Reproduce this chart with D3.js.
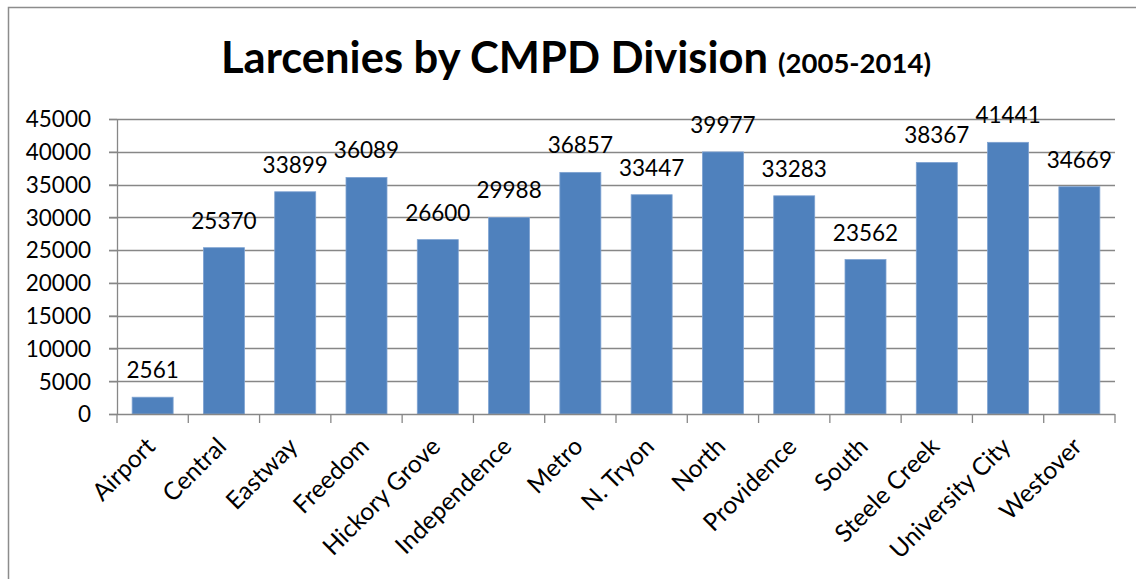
<!DOCTYPE html>
<html><head><meta charset="utf-8">
<script src="https://cdn.jsdelivr.net/npm/d3@7"></script>
<style>html,body{margin:0;padding:0;background:#fff;} svg{display:block;}</style>
</head><body>
<script>
const categories = ["Airport","Central","Eastway","Freedom","Hickory Grove","Independence","Metro","N. Tryon","North","Providence","South","Steele Creek","University City","Westover"];
const values = [2561,25370,33899,36089,26600,29988,36857,33447,39977,33283,23562,38367,41441,34669];
const yTicks = [0,5000,10000,15000,20000,25000,30000,35000,40000,45000];
const titleMain = "Larcenies by CMPD Division";
const titleSub = "(2005-2014)";

(function () {
const W = 1136, H = 579;
const font = "Lato, 'Open Sans', sans-serif";
const svg = d3.select("body").append("svg").attr("width", W).attr("height", H);
svg.append("rect").attr("width", W).attr("height", H).attr("fill", "#fff");

// chart frame (partially cropped)
svg.append("path").attr("d", `M8.5,${H+2} L8.5,7.5 L${W+2},7.5`).attr("fill","none").attr("stroke","#8c8c8c").attr("stroke-width",1.5);

const pLeft = 117, pRight = 1115, pTop = 119, pBottom = 414;
const x = d3.scaleBand().domain(categories).range([pLeft, pRight]).paddingInner(0.425).paddingOuter(0.2125);
const y = d3.scaleLinear().domain([0, 45000]).range([pBottom, pTop]);
const gridColor = "#878787";

// gridlines
svg.append("g").selectAll("line").data(yTicks.filter(d => d > 0)).join("line")
  .attr("x1", pLeft - 8).attr("x2", pRight)
  .attr("y1", d => Math.round(y(d)) + 0.5).attr("y2", d => Math.round(y(d)) + 0.5)
  .attr("stroke", gridColor).attr("stroke-width", 1.3);

// y axis
const yAxis = svg.append("g").attr("transform", `translate(${pLeft},0)`)
  .call(d3.axisLeft(y).tickValues(yTicks).tickSize(8).tickPadding(18).tickFormat(d3.format("d")));
yAxis.select(".domain").attr("stroke", gridColor).attr("stroke-width", 1.3).attr("d", `M0.5,${pBottom+0.5}V${pTop}`);
yAxis.selectAll(".tick line").attr("stroke", gridColor).attr("stroke-width", 1.3);
yAxis.selectAll(".tick text").attr("font-family", font).attr("font-size", 22.5).attr("fill", "#000").attr("dy", "0.35em");

// bars
svg.append("g").selectAll("rect").data(values).join("rect")
  .attr("x", (d, i) => x(categories[i]))
  .attr("width", x.bandwidth())
  .attr("y", d => y(d))
  .attr("height", d => y(0) - y(d))
  .attr("fill", "#4F81BD")
  .attr("stroke", "#7EA2D1").attr("stroke-width", 0.8);

// x axis line and ticks at category boundaries
const step = x.step();
const boundaries = d3.range(categories.length + 1).map(i => pLeft + i * step);
svg.append("line").attr("x1", pLeft - 8).attr("x2", pRight).attr("y1", pBottom + 0.5).attr("y2", pBottom + 0.5)
  .attr("stroke", gridColor).attr("stroke-width", 1.3);
svg.append("g").selectAll("line").data(boundaries).join("line")
  .attr("x1", d => d).attr("x2", d => d).attr("y1", pBottom).attr("y2", pBottom + 9)
  .attr("stroke", gridColor).attr("stroke-width", 1.3);

// category labels
svg.append("g").selectAll("text").data(categories).join("text")
  .attr("transform", d => `translate(${x(d) + x.bandwidth()/2 + 4},${pBottom + 34}) rotate(-45)`)
  .attr("text-anchor", "end")
  .attr("font-family", font).attr("font-size", 24.5).attr("fill", "#000")
  .text(d => d);

// data labels
svg.append("g").selectAll("text").data(values).join("text")
  .attr("x", (d, i) => x(categories[i]) + x.bandwidth()/2)
  .attr("y", d => y(d) - 19)
  .attr("text-anchor", "middle")
  .attr("font-family", font).attr("font-size", 22.5).attr("fill", "#000")
  .text(d => d);

// title
const t = svg.append("text").attr("x", 576).attr("y", 73).attr("text-anchor", "middle")
  .attr("font-family", font).attr("font-weight", "bold").attr("fill", "#000");
t.append("tspan").attr("font-size", 43.5).text(titleMain);
t.append("tspan").attr("font-size", 27.5).attr("dx", 10).text(titleSub);
})();
</script>
</body></html>
